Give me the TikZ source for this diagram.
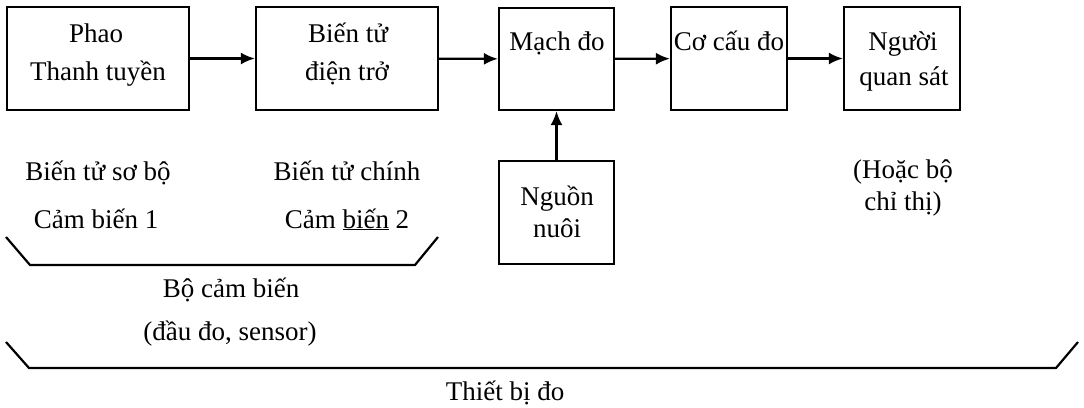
\documentclass[tikz,border=0pt]{standalone}
\usepackage{fontspec}
\setmainfont{Liberation Serif}
\usetikzlibrary{arrows.meta}
\begin{document}
\begin{tikzpicture}[x=1pt,y=-1pt,
  blk/.style={draw, line width=2.2pt, inner sep=0pt},
  txt/.style={anchor=base, inner sep=0pt, font=\fontsize{27}{32}\selectfont},
  flow/.style={line width=2.2pt, -{Latex[length=14pt,width=12pt]}},
  brace/.style={line width=2.2pt, line join=round}]
\useasboundingbox (0,0) rectangle (1084,407);

% block boxes
\node[blk, minimum width=182pt, minimum height=103pt] (phao)  at (98,58.5)  {};
\node[blk, minimum width=182pt, minimum height=103pt] (bientu) at (347,58.5) {};
\node[blk, minimum width=115pt, minimum height=102pt] (mach)  at (556.5,59) {};
\node[blk, minimum width=116pt, minimum height=103pt] (cocau) at (729,58.5) {};
\node[blk, minimum width=116pt, minimum height=103pt] (nguoi) at (902,58.5) {};
\node[blk, minimum width=115pt, minimum height=103pt] (nguon) at (556.5,212.5) {};

% box labels
\node[txt] (t1a) at (96,42)  {Phao};
\node[txt] (t1b) at (98,80)  {Thanh tuyền};
\node[txt] (t2a) at (348,42) {Biến tử};
\node[txt] (t2b) at (347,80) {điện trở};
\node[txt] (t3)  at (557,50) {Mạch đo};
\node[txt] (t4)  at (729,50) {Cơ cấu đo};
\node[txt] (t5a) at (903,50) {Người};
\node[txt] (t5b) at (904,85) {quan sát};
\node[txt] (t6a) at (557,205) {Nguồn};
\node[txt] (t6b) at (557,237) {nuôi};

% signal path
\draw[flow] (phao) -- (bientu);
\draw[flow] (bientu) -- (mach);
\draw[flow] (mach) -- (cocau);
\draw[flow] (cocau) -- (nguoi);
\draw[flow] (nguon) -- (mach);

% captions under the sensors
\node[txt] (c1a) at (98,180)  {Biến tử sơ bộ};
\node[txt] (c1b) at (96,228)  {Cảm biến 1};
\node[txt] (c2a) at (347,180) {Biến tử chính};
\node[txt] (c2b) at (347,228) {Cảm \underline{biến} 2};
\node[txt] (c5a) at (903,178) {(Hoặc bộ};
\node[txt] (c5b) at (903,210) {chỉ thị)};

% sensor group bracket
\draw[brace] (6,237) -- (30,265) -- (415,265) -- (438,237);
\node[txt] (g1a) at (231,297) {Bộ cảm biến};
\node[txt] (g1b) at (230,340) {(đầu đo, sensor)};

% whole instrument bracket
\draw[brace] (6,342) -- (29,368) -- (1056,368) -- (1078,342);
\node[txt] (g2) at (505,400) {Thiết bị đo};
\end{tikzpicture}
\end{document}
